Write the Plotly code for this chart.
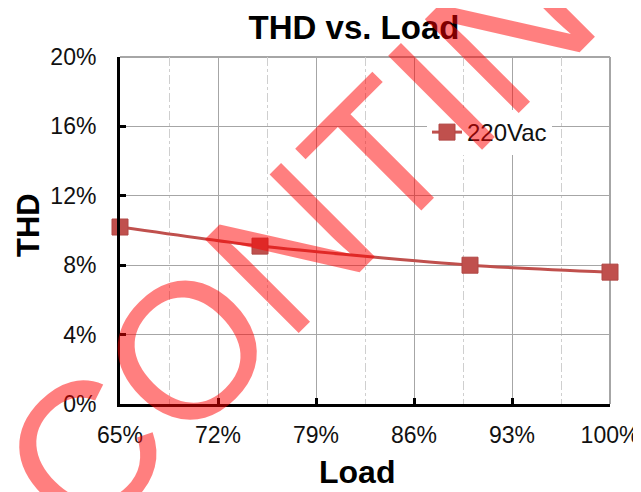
import plotly.graph_objects as go

# data
load = [65, 75, 90, 100]
thd = [10.2, 9.1, 8.0, 7.6]
series_name = "220Vac"
x_ticks = [65, 72, 79, 86, 93, 100]
x_labels = ["65%", "72%", "79%", "86%", "93%", "100%"]
y_ticks = [0, 4, 8, 12, 16, 20]
y_labels = ["0%", "4%", "8%", "12%", "16%", "20%"]
watermark = "DISCONTINUED"

OFF = 8  # page body margin
W, H = 641 - OFF, 492 - OFF
ML, MR, MT, MB = 112, 31, 49, 88
PW, PH = W - ML - MR, H - MT - MB

def px(sx):
    return (sx - OFF - ML) / PW

def py(sy):
    return 1 - (sy - OFF - MT) / PH

RED = "#C0504D"
FONT = "Arial, Liberation Sans, sans-serif"

fig = go.Figure()
fig.add_trace(go.Scatter(
    x=load, y=thd, name=series_name, mode="lines+markers",
    line=dict(color=RED, width=3, shape="spline", smoothing=0.6),
    marker=dict(symbol="square", size=16, color=RED, line=dict(color="#B04744", width=1)),
    cliponaxis=False,
))

fig.update_layout(
    width=W, height=H,
    margin=dict(l=ML, r=MR, t=MT, b=MB, autoexpand=False),
    paper_bgcolor="white", plot_bgcolor="white",
    font=dict(family=FONT, color="#111111", size=23),
    showlegend=True,
    legend=dict(x=px(427), y=py(110), xanchor="left", yanchor="top",
                bgcolor="white", borderwidth=0,
                font=dict(size=24, color="#111111"),
                itemwidth=30, tracegroupgap=0),
    xaxis=dict(
        range=[65, 100], tickmode="array", tickvals=x_ticks, ticktext=x_labels,
        showline=True, linecolor="black", linewidth=3,
        ticks="inside", ticklen=6, tickwidth=3, tickcolor="black",
        showgrid=True, gridcolor="#A6A6A6", gridwidth=1,
        minor=dict(tick0=68.5, dtick=7, showgrid=True, griddash="dashdot",
                   gridcolor="#CFCFCF", gridwidth=1, ticks=""),
        zeroline=False, tickfont=dict(size=23), ticklabelstandoff=8,
    ),
    yaxis=dict(
        range=[0, 20], tickmode="array", tickvals=y_ticks, ticktext=y_labels,
        showline=True, linecolor="black", linewidth=3,
        ticks="inside", ticklen=6, tickwidth=3, tickcolor="black",
        showgrid=True, gridcolor="#A6A6A6", gridwidth=1,
        zeroline=False, tickfont=dict(size=23), ticklabelstandoff=16,
    ),
    title=dict(text="<b>THD vs. Load</b>", font=dict(size=33, color="black"),
               x=(354 - OFF) / W, xanchor="center", y=1 - (27 - OFF) / H, yanchor="middle"),
)

# axis titles
fig.add_annotation(text="<b>Load</b>", xref="paper", yref="paper", x=px(357), y=py(472),
                   xanchor="center", yanchor="middle", showarrow=False,
                   font=dict(family=FONT, size=32, color="black"))
fig.add_annotation(text="<b>THD</b>", xref="paper", yref="paper", x=px(28), y=py(225),
                   xanchor="center", yanchor="middle", showarrow=False, textangle=-90,
                   font=dict(family=FONT, size=31, color="black"))

# gray top/right border
fig.add_shape(type="line", xref="paper", yref="paper", x0=0, x1=1, y0=1, y1=1,
              line=dict(color="#A6A6A6", width=2), layer="below")
fig.add_shape(type="line", xref="paper", yref="paper", x0=1, x1=1, y0=0, y1=1,
              line=dict(color="#A6A6A6", width=2), layer="below")

# watermark
fig.add_annotation(
    text=watermark, xref="paper", yref="paper", x=px(327), y=py(210),
    xanchor="center", yanchor="middle", showarrow=False, textangle=-45,
    font=dict(family=FONT, size=193, color="rgba(255,0,0,0.5)"),
)

fig.write_html("out.html")
